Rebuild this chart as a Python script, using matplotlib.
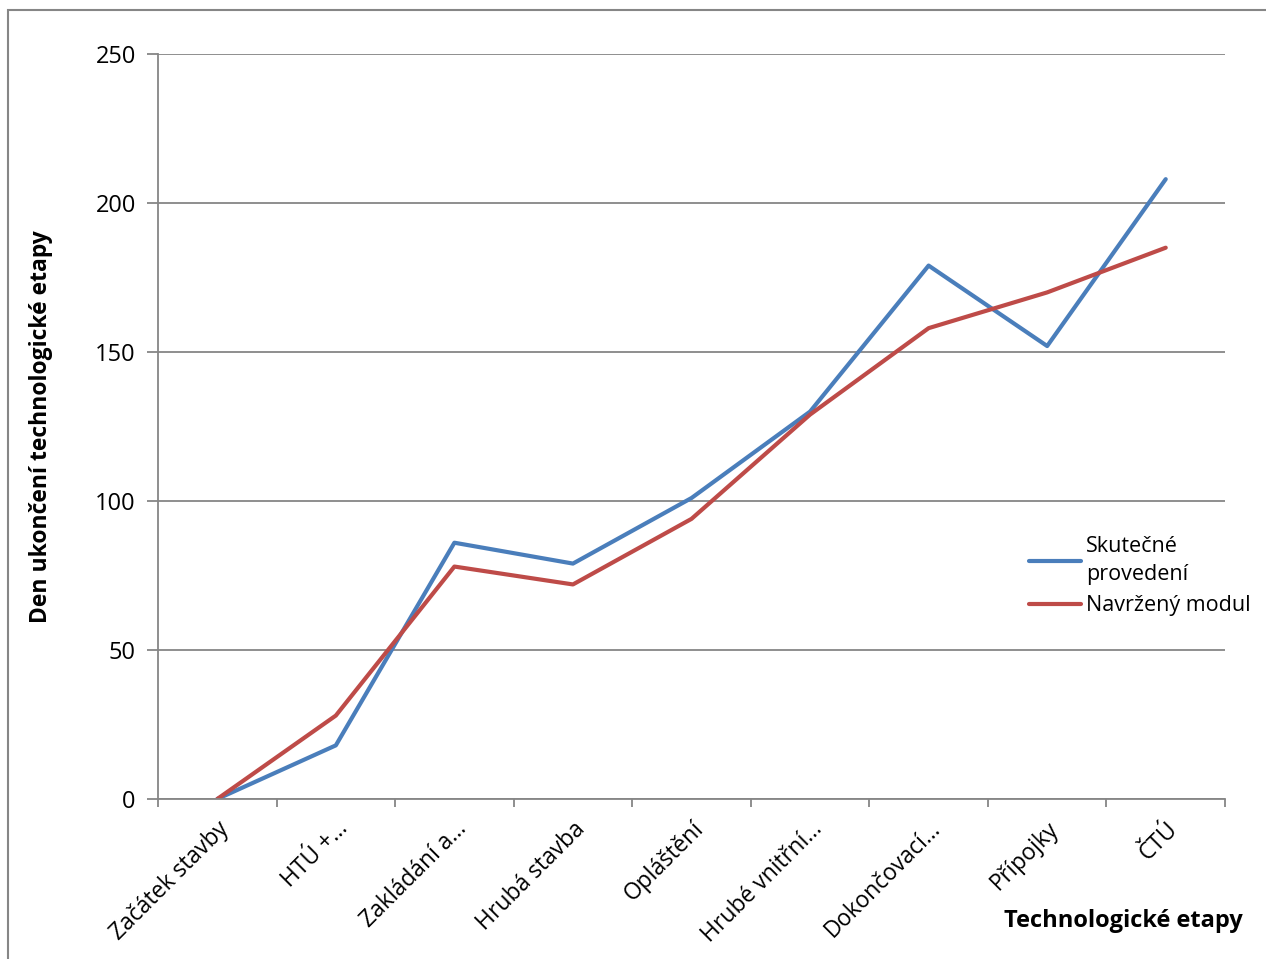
import matplotlib.pyplot as plt
from matplotlib.patches import Rectangle

plt.rcParams['font.family'] = ['Open Sans', 'DejaVu Sans']

categories = ['Začátek stavby', 'HTÚ +…', 'Zakládání a…', 'Hrubá stavba', 'Opláštění',
              'Hrubé vnitřní…', 'Dokončovací…', 'Přípojky', 'ČTÚ']
skutecne = [0, 18, 86, 79, 101, 130, 179, 152, 208]
navrzeny = [0, 28, 78, 72, 94, 129, 158, 170, 185]
yticks = [0, 50, 100, 150, 200, 250]

grey = '#868686'
fig = plt.figure(figsize=(12.66, 9.59), dpi=100)
ax = fig.add_axes([158 / 1266, 1 - 799 / 959, (1225 - 158) / 1266, (799 - 54) / 959])

x = range(len(categories))
ax.plot(x, skutecne, color='#4A7EBB', lw=3.0, label='Skutečné\nprovedení', solid_capstyle='round')
ax.plot(x, navrzeny, color='#BE4B48', lw=3.0, label='Navržený modul', solid_capstyle='round')

ax.set_xlim(-0.5, len(categories) - 0.5)
ax.set_ylim(0, 250)
ax.set_yticks(yticks)
ax.yaxis.grid(True, color=grey, lw=1.3)
ax.set_axisbelow(True)

ax.set_xticks(list(x))
ax.set_xticklabels(categories, rotation=45, ha='right', rotation_mode='anchor', fontsize=16.5)
ax.set_xticks([i + 0.5 for i in range(-1, len(categories))], minor=True)
ax.tick_params(axis='x', which='major', length=0, pad=13)
ax.tick_params(axis='x', which='minor', length=6, color=grey, width=1.3)
ax.tick_params(axis='y', length=8, color=grey, width=1.3, labelsize=17, pad=8)

for s in ['top', 'right']:
    ax.spines[s].set_visible(False)
for s in ['left', 'bottom']:
    ax.spines[s].set_color(grey)
    ax.spines[s].set_linewidth(1.3)

ax.set_ylabel('Den ukončení technologické etapy', fontsize=16.5, fontweight='bold', labelpad=30)
fig.text(1243 / 1266, 1 - 921 / 959, 'Technologické etapy', fontsize=17, fontweight='bold',
         ha='right', va='center')

leg = fig.legend(loc='center left', bbox_to_anchor=(1010 / 1266, 1 - 576 / 959), frameon=False,
                 fontsize=15.5, handlelength=2.4, handletextpad=0.25, labelspacing=0.5)
for t in leg.get_texts():
    t.set_linespacing(1.45)

fig.patches.append(Rectangle((8 / 1266, -0.1), 1.2, 1 - 10 / 959 + 0.1, transform=fig.transFigure,
                             fill=False, edgecolor=grey, lw=1.5, figure=fig))

fig.savefig('out.png', dpi=100)
